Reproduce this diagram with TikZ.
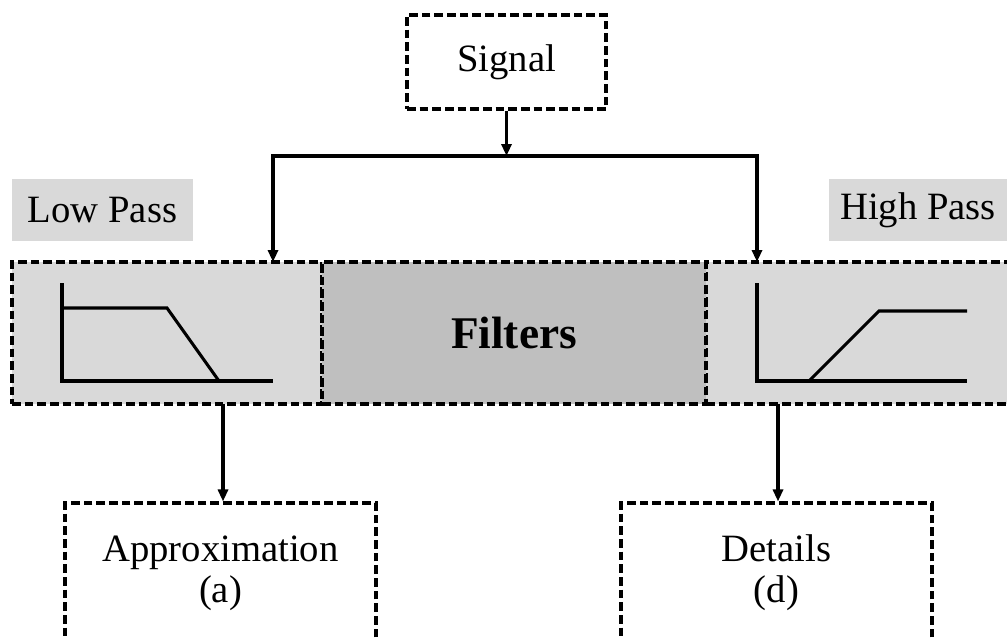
\documentclass[tikz,border=0pt]{standalone}
\usepackage{fontspec}
\setmainfont{Liberation Serif}
\usetikzlibrary{arrows.meta}
\definecolor{lightgrey}{RGB}{217,217,217}
\definecolor{midgrey}{RGB}{191,191,191}
\tikzset{
  dashbox/.style={draw, line width=2.3pt, dash pattern=on 6.5pt off 3pt, rectangle, inner sep=0pt, align=center, font=\fontsize{29}{31}\selectfont},
  passlabel/.style={fill=lightgrey, rectangle, inner sep=0pt, minimum height=46.5pt, font=\fontsize{29}{31}\selectfont},
  flow/.style={line width=2.3pt, -{Triangle[length=9pt,width=7.5pt]}},
  curve/.style={line width=2.3pt}
}
\begin{document}
\begin{tikzpicture}[x=0.75pt,y=0.75pt,yscale=-1,xscale=1,line width=2.3pt]
\useasboundingbox (0,0) rectangle (1007,637);
\clip (0,0) rectangle (1007,637);
% Signal source
\node[dashbox, minimum width=149.25pt, minimum height=70.5pt] (signal) at (506.5,62) {Signal};
% Labels
\node[passlabel, minimum width=135.75pt] (lowlabel) at (102.5,210) {Low Pass};
\node[passlabel, minimum width=133.5pt] (highlabel) at (918,210) {High Pass};
% Filter bank
\node[dashbox, fill=lightgrey, minimum width=232.5pt, minimum height=106.5pt] (lowbox) at (167,333) {};
\node[dashbox, fill=lightgrey, minimum width=228pt, minimum height=106.5pt] (highbox) at (858,333) {};
\node[dashbox, fill=midgrey, minimum width=288pt, minimum height=106.5pt, font=\fontsize{34}{36}\selectfont\bfseries] (filterbox) at (514,333) {Filters};
% Outputs
\node[dashbox, minimum width=233.25pt, minimum height=105pt] (approx) at (220.5,573) {Approximation\\(a)};
\node[dashbox, minimum width=233.25pt, minimum height=105pt] (details) at (776.5,573) {Details\\(d)};
% Low pass response
\draw[curve] (62,283) -- (62,381) -- (273,381);
\draw[curve] (62,308) -- (167,308) -- (219,381);
% High pass response
\draw[curve] (757,283) -- (757,381) -- (967,381);
\draw[curve] (809,381) -- (879,311) -- (967,311);
% Connectors
\coordinate (split) at (506.5,156);
\coordinate (lowin) at (273,262);
\coordinate (highin) at (757,262);
\coordinate (lowout) at (223,404);
\coordinate (highout) at (778,404);
\draw[flow] (signal.south) -- (split);
\draw[flow] (split) -| (lowin);
\draw[flow] (split) -| (highin);
\draw[flow] (lowout) -- (lowout |- approx.north);
\draw[flow] (highout) -- (highout |- details.north);
\end{tikzpicture}
\end{document}
